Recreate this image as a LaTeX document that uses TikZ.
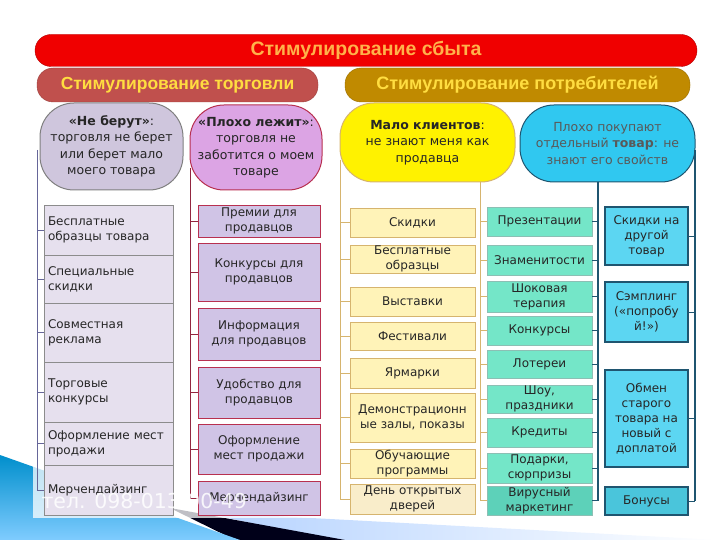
\documentclass[tikz,border=0pt]{standalone}
\usepackage{fontspec}
\setmainfont{DejaVu Sans}
\newfontfamily\headfont{Liberation Sans}
\usetikzlibrary{calc}
\definecolor{bannerred}{HTML}{F00000}
\definecolor{bannertxt}{HTML}{FFB24A}
\definecolor{tradebrown}{HTML}{C0504D}
\definecolor{consgold}{HTML}{C08A00}
\definecolor{headyel}{HTML}{FFDD40}
\tikzset{
  banner/.style={rounded corners=16pt, minimum height=32pt, font=\headfont\bfseries\fontsize{17.5}{20}\selectfont},
  oval/.style={draw, line width=1pt, rounded corners=34pt, align=center, font=\fontsize{12.5}{16.5}\selectfont, text=black!85},
  item/.style={draw, line width=0.9pt, align=center, inner xsep=2pt, inner ysep=0pt, font=\fontsize{12}{15}\selectfont, text=black!85},
  lbox/.style={item, fill=lavbox, draw=gray!90, align=left, text width=121pt, inner xsep=4pt},
  pbox/.style={item, fill=purbox, draw=purline, minimum width=122pt},
  ybox/.style={item, fill=yelbox, draw=yelline, minimum width=125pt},
  gbox/.style={item, fill=grnbox, draw=grnline, minimum width=105pt},
  bbox/.style={item, fill=blubox, draw=bluline, minimum width=83pt, line width=1.1pt},
  tick/.style={line width=0.9pt}
}
\definecolor{lavbox}{HTML}{E6E0EE}
\definecolor{lavoval}{HTML}{CFC6DD}
\definecolor{purbox}{HTML}{D0C4E6}
\definecolor{puroval}{HTML}{DCA4E4}
\definecolor{purline}{HTML}{B83050}
\definecolor{yelbox}{HTML}{FFF3B8}
\definecolor{yelline}{HTML}{D6B46E}
\definecolor{grnbox}{HTML}{74E6C8}
\definecolor{grnline}{HTML}{8CBFB4}
\definecolor{bluoval}{HTML}{30C8F0}
\definecolor{blubox}{HTML}{5CD6F2}
\definecolor{bluline}{HTML}{1F5570}
\begin{document}
\begin{tikzpicture}[x=1pt, y=-1pt]
  \useasboundingbox (0,0) rectangle (720,540);
  % slide decoration at the bottom
  \shade[left color=cyan!40!blue!30, right color=white] (200,512) -- (720,540) -- (330,540) -- cycle;
  \fill[black!90!blue] (170,508) -- (345,540) -- (235,540) -- cycle;
  \shade[top color=cyan!70!blue!80!black, bottom color=cyan!60!blue!50] (0,455) -- (240,540) -- (0,540) -- cycle;
  \fill[white, opacity=0.75] (33,100) rectangle (699,518);
  % banners
  \node[banner, fill=bannerred, draw=red!70!black, text=bannertxt, minimum width=662pt, font=\headfont\bfseries\fontsize{19.5}{22}\selectfont] (sbyt) at (366,50.5) {Стимулирование сбыта};
  \node[banner, fill=tradebrown, draw=tradebrown!80!black, text=headyel, minimum width=281pt, minimum height=34pt] (torg) at (177.5,85) {Стимулирование торговли};
  \node[banner, fill=consgold, draw=consgold!80!black, text=headyel, minimum width=345pt, minimum height=34pt, font=\headfont\bfseries\fontsize{18}{20}\selectfont] (potr) at (517.5,85) {Стимулирование потребителей};
  % problem ovals
  \node[oval, fill=lavoval, draw=gray, minimum width=143pt, minimum height=87pt] (neberut) at (111.5,146.5)
    {\textbf{«Не берут»}:\\торговля не берет\\или берет мало\\моего товара};
  \node[oval, fill=puroval, draw=purline, minimum width=132pt, minimum height=85pt] (lezhit) at (256,147.5)
    {\textbf{«Плохо лежит»}:\\торговля не\\заботится о моем\\товаре};
  \node[oval, fill=yellow, draw=yelline, minimum width=175pt, minimum height=79pt] (malo) at (427.5,142.5)
    {\textbf{Мало клиентов}:\\не знают меня как\\продавца};
  \node[oval, fill=bluoval, draw=bluline, minimum width=175pt, minimum height=77pt, text=black!65] (ploho) at (607.5,143.5)
    {Плохо покупают\\отдельный \textbf{товар}: не\\знают его свойств};
  % trade: first column
  \node[lbox, minimum height=50pt] (b1) at (108.5,230) {Бесплатные\\образцы товара};
  \node[lbox, minimum height=48pt] (b2) at (108.5,279) {Специальные\\скидки};
  \node[lbox, minimum height=59pt] (b3) at (108.5,332.5) {Совместная\\реклама};
  \node[lbox, minimum height=60pt] (b4) at (108.5,392) {Торговые\\конкурсы};
  \node[lbox, minimum height=43pt] (b5) at (108.5,443.5) {Оформление мест\\продажи};
  \node[lbox, minimum height=50pt] (b6) at (108.5,490) {Мерчендайзинг};
  % trade: second column
  \node[pbox, minimum height=32pt] (c1) at (259,221) {Премии для\\продавцов};
  \node[pbox, minimum height=58pt] (c2) at (259,272) {Конкурсы для\\продавцов};
  \node[pbox, minimum height=52pt] (c3) at (259,334) {Информация\\для продавцов};
  \node[pbox, minimum height=51pt] (c4) at (259,392.5) {Удобство для\\продавцов};
  \node[pbox, minimum height=50pt] (c5) at (259,449) {Оформление\\мест продажи};
  \node[pbox, minimum height=34pt] (c6) at (259,498) {Мерчендайзинг};
  % consumers: yellow column
  \node[ybox, minimum height=29pt] (d1) at (412.5,222.5) {Скидки};
  \node[ybox, minimum height=28pt] (d2) at (412.5,259) {Бесплатные\\образцы};
  \node[ybox, minimum height=29pt] (d3) at (412.5,301.5) {Выставки};
  \node[ybox, minimum height=28pt] (d4) at (412.5,336) {Фестивали};
  \node[ybox, minimum height=30pt] (d5) at (412.5,373) {Ярмарки};
  \node[ybox, minimum height=49pt] (d6) at (412.5,417.5) {Демонстрационн\\ые залы, показы};
  \node[ybox, minimum height=29pt] (d7) at (412.5,463.5) {Обучающие\\программы};
  \node[ybox, minimum height=30pt, fill=yelbox!85!brown!60] (d8) at (412.5,499) {День открытых\\дверей};
  % consumers: green column
  \node[gbox, minimum height=29pt] (e1) at (539.5,221.5) {Презентации};
  \node[gbox, minimum height=30pt] (e2) at (539.5,260) {Знаменитости};
  \node[gbox, minimum height=31pt] (e3) at (539.5,296.5) {Шоковая\\терапия};
  \node[gbox, minimum height=29pt] (e4) at (539.5,330.5) {Конкурсы};
  \node[gbox, minimum height=28pt] (e5) at (539.5,364) {Лотереи};
  \node[gbox, minimum height=28pt] (e6) at (539.5,399) {Шоу,\\праздники};
  \node[gbox, minimum height=29pt] (e7) at (539.5,432.5) {Кредиты};
  \node[gbox, minimum height=30pt] (e8) at (539.5,468) {Подарки,\\сюрпризы};
  \node[gbox, minimum height=29pt, fill=grnbox!80!teal] (e9) at (539.5,500.5) {Вирусный\\маркетинг};
  % consumers: blue column
  \node[bbox, minimum height=58pt] (f1) at (646.5,236) {Скидки на\\другой\\товар};
  \node[bbox, minimum height=60pt] (f2) at (646.5,312) {Сэмплинг\\(«попробу\\й!»)};
  \node[bbox, minimum height=97pt] (f3) at (646.5,418.5) {Обмен\\старого\\товара на\\новый с\\доплатой};
  \node[bbox, minimum height=28pt, fill=blubox!80!teal] (f4) at (646.5,501) {Бонусы};
  % connectors
  \coordinate (l1) at (37,150);
  \coordinate (l2) at (190,168);
  \coordinate (l3) at (340,160);
  \coordinate (l4) at (480,182);
  \coordinate (l5) at (598,182);
  \coordinate (l6) at (695,150);
  \draw[tick, draw=gray!80!blue] (l1) -- (l1 |- b6.west);
  \foreach \n in {b1,b2,b3,b4,b5,b6} \draw[tick, draw=gray!80!blue] (l1 |- \n.west) -- (\n.west);
  \draw[tick, draw=purline!80!black] (l2) -- (l2 |- c6.west);
  \foreach \n in {c1,c2,c3,c4,c5,c6} \draw[tick, draw=purline!80!black] (l2 |- \n.west) -- (\n.west);
  \draw[tick, draw=yelline] (l3) -- (l3 |- d8.west);
  \foreach \n in {d1,d2,d3,d4,d5,d6,d7,d8} \draw[tick, draw=yelline] (l3 |- \n.west) -- (\n.west);
  \draw[tick, draw=yelline] (l4) -- (l4 |- e9.west);
  \foreach \n in {e1,e2,e3,e4,e5,e6,e7,e8,e9} \draw[tick, draw=yelline] (l4 |- \n.west) -- (\n.west);
  \draw[tick, line width=1.3pt, draw=bluline] (l5) -- (l5 |- e9.east);
  \foreach \n in {e1,e2,e3,e4,e5,e6,e7,e8,e9} \draw[tick, draw=bluline] (\n.east) -- (l5 |- \n.east);
  \draw[tick, line width=1.3pt, draw=bluline] (l6) -- (l6 |- f4.east);
  \foreach \n in {f1,f2,f3,f4} \draw[tick, draw=bluline] (\n.east) -- (l6 |- \n.east);
  % phone watermark
  \node[text=white, opacity=0.85, font=\fontsize{20.5}{20.5}\selectfont, anchor=west] (tel) at (38,501) {тел. 098-013-90-49};
\end{tikzpicture}
\end{document}
